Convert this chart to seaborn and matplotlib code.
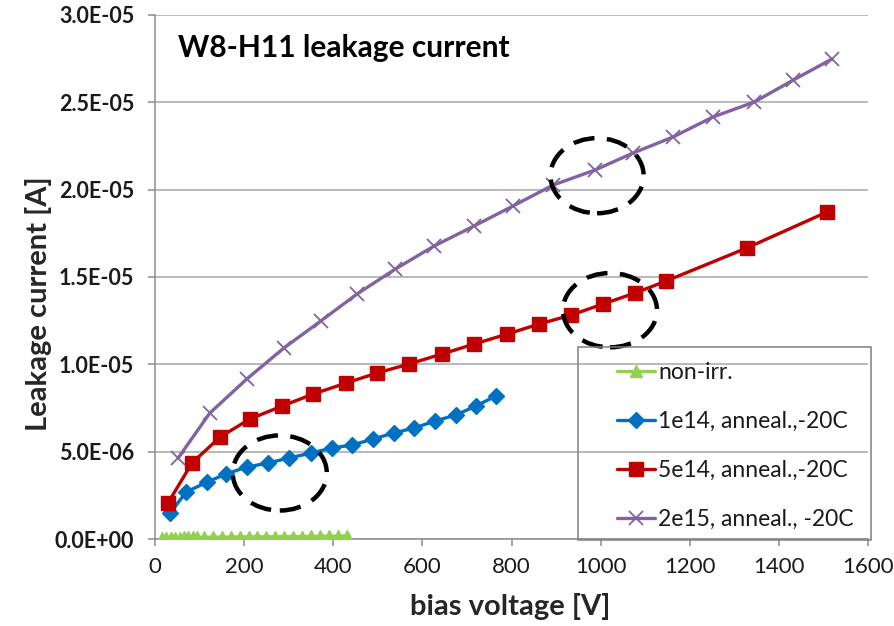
import numpy as np
import pandas as pd
import matplotlib
matplotlib.use("Agg")
import matplotlib.pyplot as plt
from matplotlib.ticker import FuncFormatter, MultipleLocator
from matplotlib.patches import Ellipse, Rectangle
import seaborn as sns

# ---------------- data ----------------
v_nonirr = [15, 25, 35, 45, 55, 65, 75, 85, 95, 110, 130, 150, 170, 190, 210, 230,
            250, 270, 290, 310, 330, 350, 370, 390, 410, 430]
i_nonirr = [0.05e-6, 0.06e-6, 0.07e-6, 0.08e-6, 0.08e-6, 0.09e-6, 0.09e-6, 0.10e-6,
            0.10e-6, 0.10e-6, 0.11e-6, 0.11e-6, 0.12e-6, 0.12e-6, 0.12e-6, 0.13e-6,
            0.13e-6, 0.13e-6, 0.14e-6, 0.14e-6, 0.14e-6, 0.15e-6, 0.15e-6, 0.16e-6,
            0.16e-6, 0.18e-6]

v_1e14 = [34, 70, 117, 159, 206, 254, 301, 350, 397, 442, 489, 536, 581, 628, 675, 720, 765]
i_1e14 = [1.49e-6, 2.69e-6, 3.26e-6, 3.72e-6, 4.12e-6, 4.35e-6, 4.64e-6, 4.92e-6,
          5.21e-6, 5.38e-6, 5.72e-6, 6.07e-6, 6.35e-6, 6.75e-6, 7.10e-6, 7.61e-6, 8.19e-6]

v_5e14 = [29, 83, 146, 213, 285, 355, 429, 498, 570, 644, 716, 790, 862, 934, 1005,
          1077, 1147, 1328, 1508]
i_5e14 = [2.06e-6, 4.35e-6, 5.84e-6, 6.87e-6, 7.61e-6, 8.30e-6, 8.93e-6, 9.50e-6,
          10.02e-6, 10.59e-6, 11.16e-6, 11.73e-6, 12.31e-6, 12.82e-6, 13.45e-6,
          14.08e-6, 14.77e-6, 16.66e-6, 18.72e-6]

v_2e15 = [52, 123, 206, 289, 372, 453, 539, 626, 716, 803, 893, 987, 1073, 1162,
          1252, 1344, 1432, 1519]
i_2e15 = [4.64e-6, 7.21e-6, 9.16e-6, 10.93e-6, 12.48e-6, 14.02e-6, 15.45e-6,
          16.77e-6, 17.92e-6, 19.06e-6, 20.26e-6, 21.12e-6, 22.10e-6, 23.01e-6,
          24.16e-6, 25.01e-6, 26.27e-6, 27.48e-6]

series_names = ["non-irr.", "1e14, anneal.,-20C", "5e14, anneal.,-20C", "2e15, anneal., -20C"]
title_text = "W8-H11 leakage current"
xlabel_text = "bias voltage [V]"
ylabel_text = "Leakage current [A]"

# highlighted regions (center V, center I, width V, height I)
ell_cx = [280, 992, 1021]
ell_cy = [3.78e-6, 20.8e-6, 13.1e-6]
ell_w = [211, 209, 211]
ell_h = [4.3e-6, 4.3e-6, 4.25e-6]

# ---------------- plot ----------------
sns.set_theme(style="white")
plt.rcParams["font.family"] = ["Lato", "DejaVu Sans"]

W, H = 894, 626
fig = plt.figure(figsize=(W / 100, H / 100), dpi=100)
ax = fig.add_axes([155 / W, 1 - 539 / H, (868 - 155) / W, (539 - 15) / H])

frames = []
for name, v, i in zip(series_names,
                      [v_nonirr, v_1e14, v_5e14, v_2e15],
                      [i_nonirr, i_1e14, i_5e14, i_2e15]):
    frames.append(pd.DataFrame({"V": v, "I": i, "series": name}))
df = pd.concat(frames, ignore_index=True)

colors = ["#92D050", "#0070C0", "#C00000", "#8064A2"]
markers = ["^", "D", "s", "x"]
msizes = [8.5, 8.5, 9.5, 10]
mews = [1, 1, 1, 1.3]

for name, c, m, ms, mew in zip(series_names, colors, markers, msizes, mews):
    sub = df[df["series"] == name]
    sns.lineplot(data=sub, x="V", y="I", ax=ax, color=c, marker=m, markersize=ms,
                 markeredgecolor=c, markeredgewidth=mew, linewidth=2.4,
                 label=name, sort=False, zorder=3)

for cx, cy, w, h in zip(ell_cx, ell_cy, ell_w, ell_h):
    e = Ellipse((cx, cy), w, h, fill=False, edgecolor="black", linewidth=3.2,
                linestyle=(0, (4.8, 2.8)), zorder=4)
    ax.add_patch(e)

ax.set_xlim(0, 1600)
ax.set_ylim(0, 3.0e-5)
ax.xaxis.set_major_locator(MultipleLocator(200))
ax.yaxis.set_major_locator(MultipleLocator(5e-6))
ax.yaxis.set_major_formatter(FuncFormatter(lambda v, p: f"{v:.1E}"))
ax.grid(axis="y", color="#A6A6A6", linewidth=1.1)
ax.grid(axis="x", visible=False)
ax.set_axisbelow(True)

for s in ["top", "right"]:
    ax.spines[s].set_visible(False)
for s in ["left", "bottom"]:
    ax.spines[s].set_color("#8C8C8C")
    ax.spines[s].set_linewidth(1.1)

ax.tick_params(axis="both", which="major", direction="out", length=5, width=1.1,
               color="#8C8C8C", bottom=True, left=True)
ax.tick_params(axis="x", labelsize=16, pad=8, labelcolor="#1a1a1a")
ax.tick_params(axis="y", labelsize=15.5, pad=10, labelcolor="#1a1a1a")
for lab in ax.get_yticklabels():
    lab.set_fontweight("bold")

ax.set_xlabel(xlabel_text, fontsize=21, fontweight="bold")
ax.set_ylabel(ylabel_text, fontsize=21, fontweight="bold")
ax.xaxis.label.set_verticalalignment("center")
ax.yaxis.label.set_verticalalignment("center")
ax.xaxis.set_label_coords((510 - 155) / 713, (539 - 607) / 524)
ax.yaxis.set_label_coords((39 - 155) / 713, (539 - 304) / 524)

ax.text((178 - 155) / 713, (539 - 57) / 524, title_text, transform=ax.transAxes,
        fontsize=21.5, fontweight="bold", ha="left", va="baseline", color="black")

# legend (transparent, fixed frame like the original)
handles, labels = ax.get_legend_handles_labels()
leg_fs = 16.5
leg = ax.legend(handles, labels, loc="upper left",
                bbox_to_anchor=(617 / W, 1 - 362 / H), bbox_transform=fig.transFigure,
                fontsize=leg_fs, frameon=False, labelspacing=1.22, handlelength=1.66,
                handletextpad=0.13, borderpad=0, borderaxespad=0)
for t in leg.get_texts():
    t.set_color("#1a1a1a")
fig.patches.append(Rectangle((578 / W, 1 - 540 / H), (871 - 578) / W, (540 - 347) / H,
                             transform=fig.transFigure, fill=False,
                             edgecolor="#7F7F7F", linewidth=1.1, zorder=5))

fig.savefig("out.png", dpi=100)
